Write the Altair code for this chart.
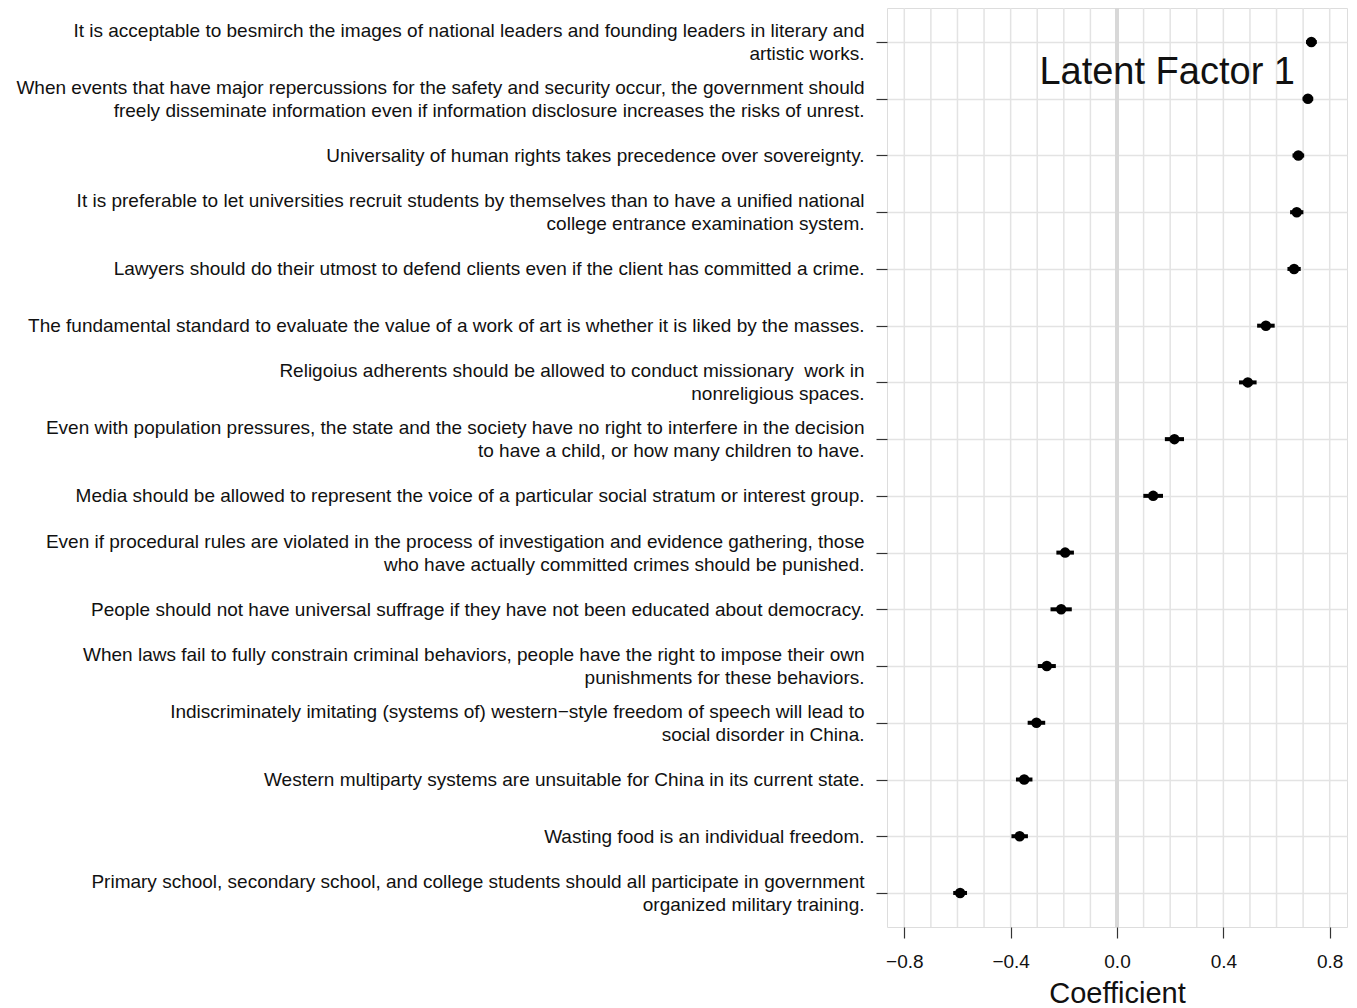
import altair as alt
import pandas as pd

statements = [
    "It is acceptable to besmirch the images of national leaders and founding leaders in literary and|artistic works.",
    "When events that have major repercussions for the safety and security occur, the government should|freely disseminate information even if information disclosure increases the risks of unrest.",
    "Universality of human rights takes precedence over sovereignty.",
    "It is preferable to let universities recruit students by themselves than to have a unified national|college entrance examination system.",
    "Lawyers should do their utmost to defend clients even if the client has committed a crime.",
    "The fundamental standard to evaluate the value of a work of art is whether it is liked by the masses.",
    "Religoius adherents should be allowed to conduct missionary\u00a0 work in|nonreligious spaces.",
    "Even with population pressures, the state and the society have no right to interfere in the decision|to have a child, or how many children to have.",
    "Media should be allowed to represent the voice of a particular social stratum or interest group.",
    "Even if procedural rules are violated in the process of investigation and evidence gathering, those|who have actually committed crimes should be punished.",
    "People should not have universal suffrage if they have not been educated about democracy.",
    "When laws fail to fully constrain criminal behaviors, people have the right to impose their own|punishments for these behaviors.",
    "Indiscriminately imitating (systems of) western\u2212style freedom of speech will lead to|social disorder in China.",
    "Western multiparty systems are unsuitable for China in its current state.",
    "Wasting food is an individual freedom.",
    "Primary school, secondary school, and college students should all participate in government|organized military training.",
]
coef = [0.731, 0.718, 0.682, 0.676, 0.666, 0.560, 0.492, 0.216, 0.136,
        -0.195, -0.210, -0.264, -0.303, -0.349, -0.366, -0.590]
half = [0.020, 0.020, 0.022, 0.025, 0.025, 0.033, 0.033, 0.036, 0.037,
        0.033, 0.040, 0.034, 0.033, 0.031, 0.031, 0.026]
x_ticks = [-0.8, -0.4, 0.0, 0.4, 0.8]
x_grid = [-0.8, -0.7, -0.6, -0.5, -0.4, -0.3, -0.2, -0.1, 0.0,
          0.1, 0.2, 0.3, 0.4, 0.5, 0.6, 0.7, 0.8]
panel_title = ["Latent Factor 1"]

FONT = "Liberation Sans"

df = pd.DataFrame({
    "label": statements,
    "coef": coef,
    "lo": [c - h for c, h in zip(coef, half)],
    "hi": [c + h for c, h in zip(coef, half)],
})

xscale = alt.Scale(domain=[-0.865, 0.865], nice=False, zero=False)
yscale = alt.Scale(type="point", padding=0.6)

x_axis = alt.Axis(
    values=x_ticks, format=".1f", grid=False, domain=False,
    tickSize=11, tickColor="#333", tickWidth=1.2,
    labelFont=FONT, labelFontSize=19, labelColor="#111", labelPadding=14,
    title="Coefficient", titleFont=FONT, titleFontSize=29,
    titleFontWeight="normal", titleColor="#111", titlePadding=8,
)
y_axis = alt.Axis(
    title=None, domain=False, grid=True, gridColor="#e3e3e3", gridWidth=1.5,
    tickSize=11, tickColor="#333", tickWidth=1.2,
    labelExpr="split(datum.label, '|')", labelLimit=900,
    labelFont=FONT, labelFontSize=19, labelLineHeight=23,
    labelColor="#111", labelPadding=12, labelBaseline="middle",
    labelOffset={"condition": {"test": "indexof(datum.value, '|') >= 0", "value": -11.5}, "value": 0},
)

base = alt.Chart(df)

grid = alt.Chart(pd.DataFrame({"g": x_grid})).mark_rule(
    color="#e3e3e3", strokeWidth=1.5
).encode(x=alt.X("g:Q", scale=xscale, axis=x_axis))

zero = alt.Chart(pd.DataFrame({"z": [0.0]})).mark_rule(
    color="#d8d8d8", strokeWidth=4
).encode(x=alt.X("z:Q", scale=xscale))

bars = base.mark_rule(color="black", strokeWidth=4).encode(
    x=alt.X("lo:Q", scale=xscale),
    x2="hi:Q",
    y=alt.Y("label:N", sort=statements, scale=yscale, axis=y_axis),
)

pts = base.mark_point(filled=True, shape="circle", size=110, color="black", opacity=1).encode(
    x=alt.X("coef:Q", scale=xscale),
    y=alt.Y("label:N", sort=statements, scale=yscale, axis=y_axis),
)

ttl = alt.Chart(pd.DataFrame({"t": panel_title})).mark_text(
    font=FONT, fontSize=38, align="right", baseline="alphabetic", color="#111"
).encode(text="t:N", x=alt.value(408), y=alt.value(76))

chart = alt.layer(grid, zero, bars, pts, ttl).properties(
    width=460, height=919,
    autosize=alt.AutoSizeParams(type="none"),
    padding={"left": 879, "top": 0, "right": 2, "bottom": 85},
).configure_view(stroke="#333", strokeWidth=1.5).configure(background="white")

chart.save("out.html", embed_options={"renderer": "svg", "actions": False})
